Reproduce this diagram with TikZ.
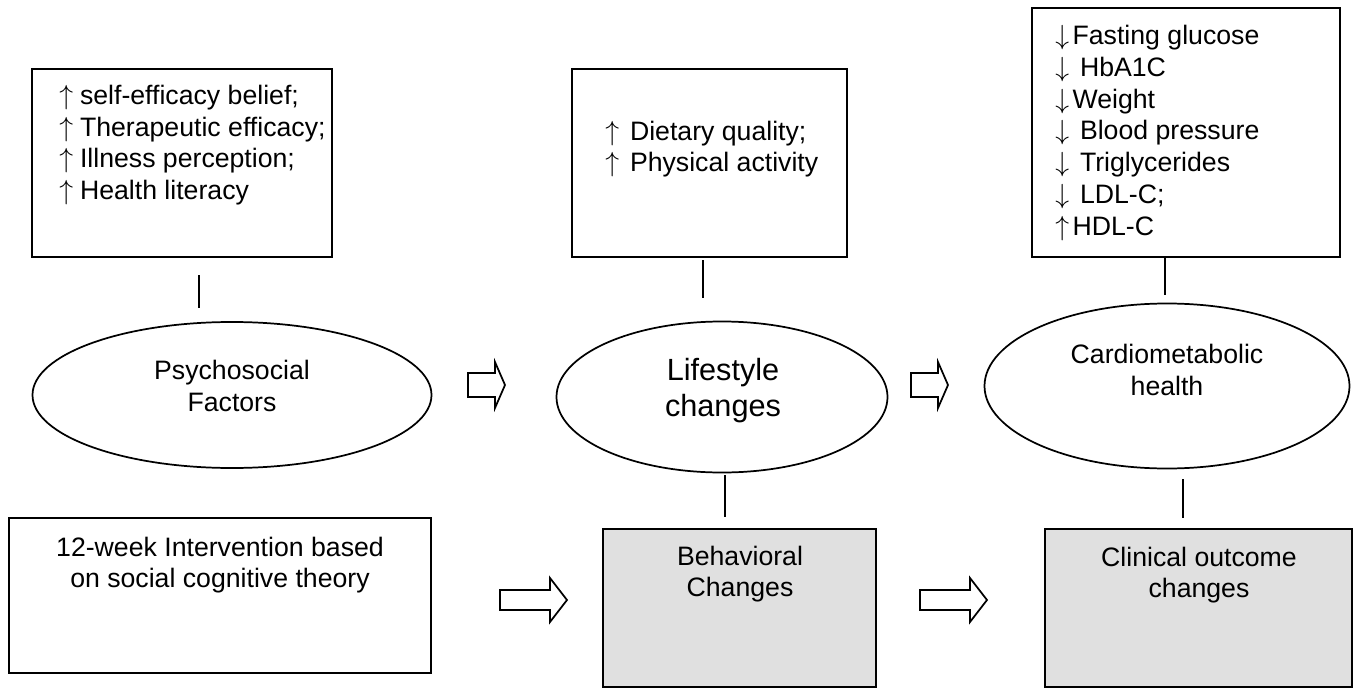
\documentclass[tikz,border=0pt]{standalone}
\usepackage{fontspec}
\setmainfont{Liberation Sans}
\usetikzlibrary{shapes.geometric}
\newcommand\upA{\makebox[10pt][l]{$\uparrow$}}
\newcommand\upB{\makebox[13pt][l]{$\uparrow$}}
\newcommand\dnB{\makebox[13pt][l]{$\downarrow$}}
\begin{document}
\begin{tikzpicture}[x=0.75pt,y=-0.75pt,
  box/.style={draw,line width=1.3pt,inner sep=0,rectangle},
  grbox/.style={box,fill=black!12},
  ell/.style={draw,line width=1.3pt,inner sep=0,ellipse},
  txt/.style={inner sep=0,font=\fontsize{20}{23.8}\selectfont},
  bigtxt/.style={inner sep=0,font=\fontsize{23}{27}\selectfont},
  conn/.style={line width=1.3pt},
  blockarrow/.style={draw,line width=1.3pt,fill=white,line join=miter}
]
\useasboundingbox (0,0) rectangle (1360,688);

% top boxes
\node[box,minimum width=225pt,minimum height=141pt] (b1) at (182,163) {};
\node[box,minimum width=206.25pt,minimum height=141pt] (b2) at (709.5,163) {};
\node[box,minimum width=231pt,minimum height=186.75pt] (b3) at (1186,132.5) {};

\node[txt,align=left,anchor=west] (t1) at (59,145) {\upA\ self-efficacy belief;\\\upA\ Therapeutic efficacy;\\\upA\ Illness perception;\\\upA\ Health literacy};
\node[txt,align=left,anchor=west] (t2) at (605,149) {\upB\ Dietary quality;\\\upB\ Physical activity};
\node[txt,align=left,anchor=west] (t3) at (1055,133) {\dnB Fasting glucose\\\dnB\ HbA1C\\\dnB Weight\\\dnB\ Blood pressure\\\dnB\ Triglycerides\\\dnB\ LDL-C;\\\upB HDL-C};

% ellipses
\node[ell,minimum width=299.25pt,minimum height=109.5pt] (e1) at (232,395) {};
\node[ell,minimum width=248.25pt,minimum height=113.25pt] (e2) at (722,397) {};
\node[ell,minimum width=273.75pt,minimum height=123.75pt] (e3) at (1167,386) {};

\node[txt,align=center] (et1) at (232,386) {Psychosocial\\Factors};
\node[bigtxt,align=center] (et2) at (723,391) {Lifestyle\\changes};
\node[txt,align=center] (et3) at (1167,370) {Cardiometabolic\\health};

% bottom boxes
\node[box,minimum width=316.5pt,minimum height=116.25pt] (c1) at (220,595.5) {};
\node[grbox,minimum width=204.75pt,minimum height=118.5pt] (c2) at (739.5,608) {};
\node[grbox,minimum width=230.25pt,minimum height=118.5pt] (c3) at (1198.5,608) {};

\node[txt,align=center] (ct1) at (220,565) {12-week Intervention based\\on social cognitive theory};
\node[txt,align=center] (ct2) at (740,574) {Behavioral\\Changes};
\node[txt,align=center] (ct3) at (1199,575) {Clinical outcome\\changes};

% connector stubs
\coordinate (l1a) at (199,275); \coordinate (l1b) at (199,308);
\coordinate (l2a) at (703,260); \coordinate (l2b) at (703,298);
\coordinate (l3a) at (1165,258); \coordinate (l3b) at (1165,295);
\coordinate (l4a) at (725,475); \coordinate (l4b) at (725,517);
\coordinate (l5a) at (1183,479); \coordinate (l5b) at (1183,518);
\draw[conn] (l1a) -- (l1b);
\draw[conn] (l2a) -- (l2b);
\draw[conn] (l3a) -- (l3b);
\draw[conn] (l4a) -- (l4b);
\draw[conn] (l5a) -- (l5b);

% small block arrows
\draw[blockarrow] (468,373) -- (495,373) -- (495,362) -- (505,385) -- (495,408) -- (495,397) -- (468,397) -- cycle;
\draw[blockarrow] (911,373) -- (938,373) -- (938,362) -- (948,385) -- (938,408) -- (938,397) -- (911,397) -- cycle;

% big block arrows
\draw[blockarrow] (500,590) -- (550,590) -- (550,578) -- (567,600) -- (550,622) -- (550,610) -- (500,610) -- cycle;
\draw[blockarrow] (920,590) -- (970,590) -- (970,578) -- (987,600) -- (970,622) -- (970,610) -- (920,610) -- cycle;
\end{tikzpicture}
\end{document}
